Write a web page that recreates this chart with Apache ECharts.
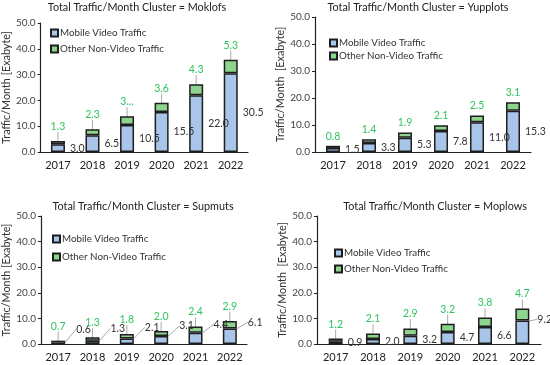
<!DOCTYPE html>
<html><head><meta charset="utf-8">
<script src="https://cdn.jsdelivr.net/npm/echarts@6/dist/echarts.min.js"></script>
<style>html,body{margin:0;padding:0;background:#fff}#c{width:550px;height:365px}</style>
</head><body><div id="c"></div>
<script>
// ---- data ----
const years = ['2017','2018','2019','2020','2021','2022'];
const clusterNames = ['Moklofs','Yupplots','Supmuts','Moplows'];
const yAxisNames = ['Traffic/Month [Exabyte]','Traffic/Month  [Exabyte]','Traffic/Month [Exabyte]','Traffic/Month  [Exabyte]'];
const seriesNames = ['Mobile Video Traffic','Other Non-Video Traffic'];

const moklofsVideo  = [3.0, 6.5, 10.5, 15.5, 22.0, 30.5];
const moklofsOther  = [1.3, 2.3, 3.4, 3.6, 4.3, 5.3];
const moklofsOtherLabels = ['1.3','2.3','3...','3.6','4.3','5.3'];

const yupplotsVideo = [1.5, 3.3, 5.3, 7.8, 11.0, 15.3];
const yupplotsOther = [0.8, 1.4, 1.9, 2.1, 2.5, 3.1];

const supmutsVideo  = [0.6, 1.3, 2.1, 3.1, 4.4, 6.1];
const supmutsOther  = [0.7, 1.3, 1.8, 2.0, 2.4, 2.9];

const moplowsVideo  = [0.9, 2.0, 3.2, 4.7, 6.6, 9.2];
const moplowsOther  = [1.2, 2.1, 2.9, 3.2, 3.8, 4.7];

const yMin = 0, yMax = 50, yStep = 10;

// ---- layout / style ----
const FONT = 'Lato';
const BLUE = '#a9c5ea', GREEN = '#8fd48c', EDGE = '#1e1e1e', LBLGREEN = '#2fc45e', LBLDARK = '#333';
const grids = [
  {left:40,  top:23,  width:208, height:129},
  {left:315, top:17,  width:216, height:135},
  {left:41,  top:216, width:206, height:128},
  {left:317, top:216, width:224, height:128}
];
const titlePos = [{x:137,y:2},{x:418,y:2},{x:143,y:201},{x:435,y:201}];
const legendPos = [{l:50,t:28,g:6},{l:329,t:38,g:3},{l:52,t:234,g:8},{l:334,t:248,g:6}];

const videoData = [moklofsVideo, yupplotsVideo, supmutsVideo, moplowsVideo];
const otherData = [moklofsOther, yupplotsOther, supmutsOther, moplowsOther];

const chart = echarts.init(document.getElementById('c'), null, {renderer:'canvas'});
const title=[], legend=[], grid=[], xAxis=[], yAxis=[], series=[];
const leader = {show:true, lineStyle:{color:'#aaa',width:1}};
for (let i=0;i<4;i++){
  grid.push(Object.assign({containLabel:false}, grids[i]));
  title.push({text:'Total Traffic/Month Cluster = '+clusterNames[i], left:titlePos[i].x, top:titlePos[i].y, textAlign:'center', padding:0,
    textStyle:{fontFamily:FONT,fontSize:10.8,fontWeight:'normal',color:'#222'}});
  legend.push({data:seriesNames, orient:'vertical', left:legendPos[i].l, top:legendPos[i].t, itemGap:legendPos[i].g, padding:0,
    itemWidth:7, itemHeight:7, icon:'rect', selectedMode:false,
    textStyle:{fontFamily:FONT,fontSize:9.8,color:'#333',padding:[0,0,0,-3]}});
  xAxis.push({type:'category', gridIndex:i, data:years,
    axisLine:{lineStyle:{color:'#222',width:1.2}}, axisTick:{show:false},
    axisLabel:{fontFamily:FONT,fontSize:11,color:'#222',margin:8}});
  yAxis.push({type:'value', gridIndex:i, min:yMin, max:yMax, interval:yStep,
    name:yAxisNames[i], nameLocation:'middle', nameGap:25,
    nameTextStyle:{fontFamily:FONT,fontSize:10.8,color:'#333'},
    axisLine:{show:true,lineStyle:{color:'#222',width:1.2}}, axisTick:{show:true,length:3,lineStyle:{color:'#222'}},
    splitLine:{show:false},
    axisLabel:{fontFamily:FONT,fontSize:10,color:'#444',margin:5,formatter:v=>v.toFixed(1)}});

  // video labels
  let vData = videoData[i].map(v=>({value:v}));
  let vLabel = {show:true, position:'right', distance:5, fontFamily:FONT, fontSize:10.5, color:LBLDARK, formatter:p=>p.value.toFixed(1)};
  let vLayout = null, vLine = {show:false};
  if (i===2){ vLayout = {dx:6, dy:-14}; vLine = leader; }
  if (i===3){
    vLayout = function(p){ return p.dataIndex===5 ? {dx:3,dy:-13} : {}; };
    vData[5].labelLine = leader;
  }

  series.push({name:seriesNames[0], type:'bar', stack:'s'+i, xAxisIndex:i, yAxisIndex:i, data:vData,
    barWidth:14, itemStyle:{color:BLUE,borderColor:EDGE,borderWidth:1.5},
    label:vLabel, labelLayout:vLayout, labelLine:vLine});

  let gLabel = {show:true, position:'top', distance:4, fontFamily:FONT, fontSize:10.5, color:LBLGREEN,
    formatter: i===0 ? (p=>moklofsOtherLabels[p.dataIndex]) : (p=>p.value.toFixed(1))};
  let gLayout = null, gLine = {show:false};
  if (i!==1){ gLayout = {dy:-5}; gLine = leader; }
  series.push({name:seriesNames[1], type:'bar', stack:'s'+i, xAxisIndex:i, yAxisIndex:i, data:otherData[i],
    barWidth:14, itemStyle:{color:GREEN,borderColor:EDGE,borderWidth:1.5},
    label:gLabel, labelLayout:gLayout, labelLine:gLine});
}
chart.setOption({animation:false, backgroundColor:'#fff', title, legend, grid, xAxis, yAxis, series});
</script></body></html>
